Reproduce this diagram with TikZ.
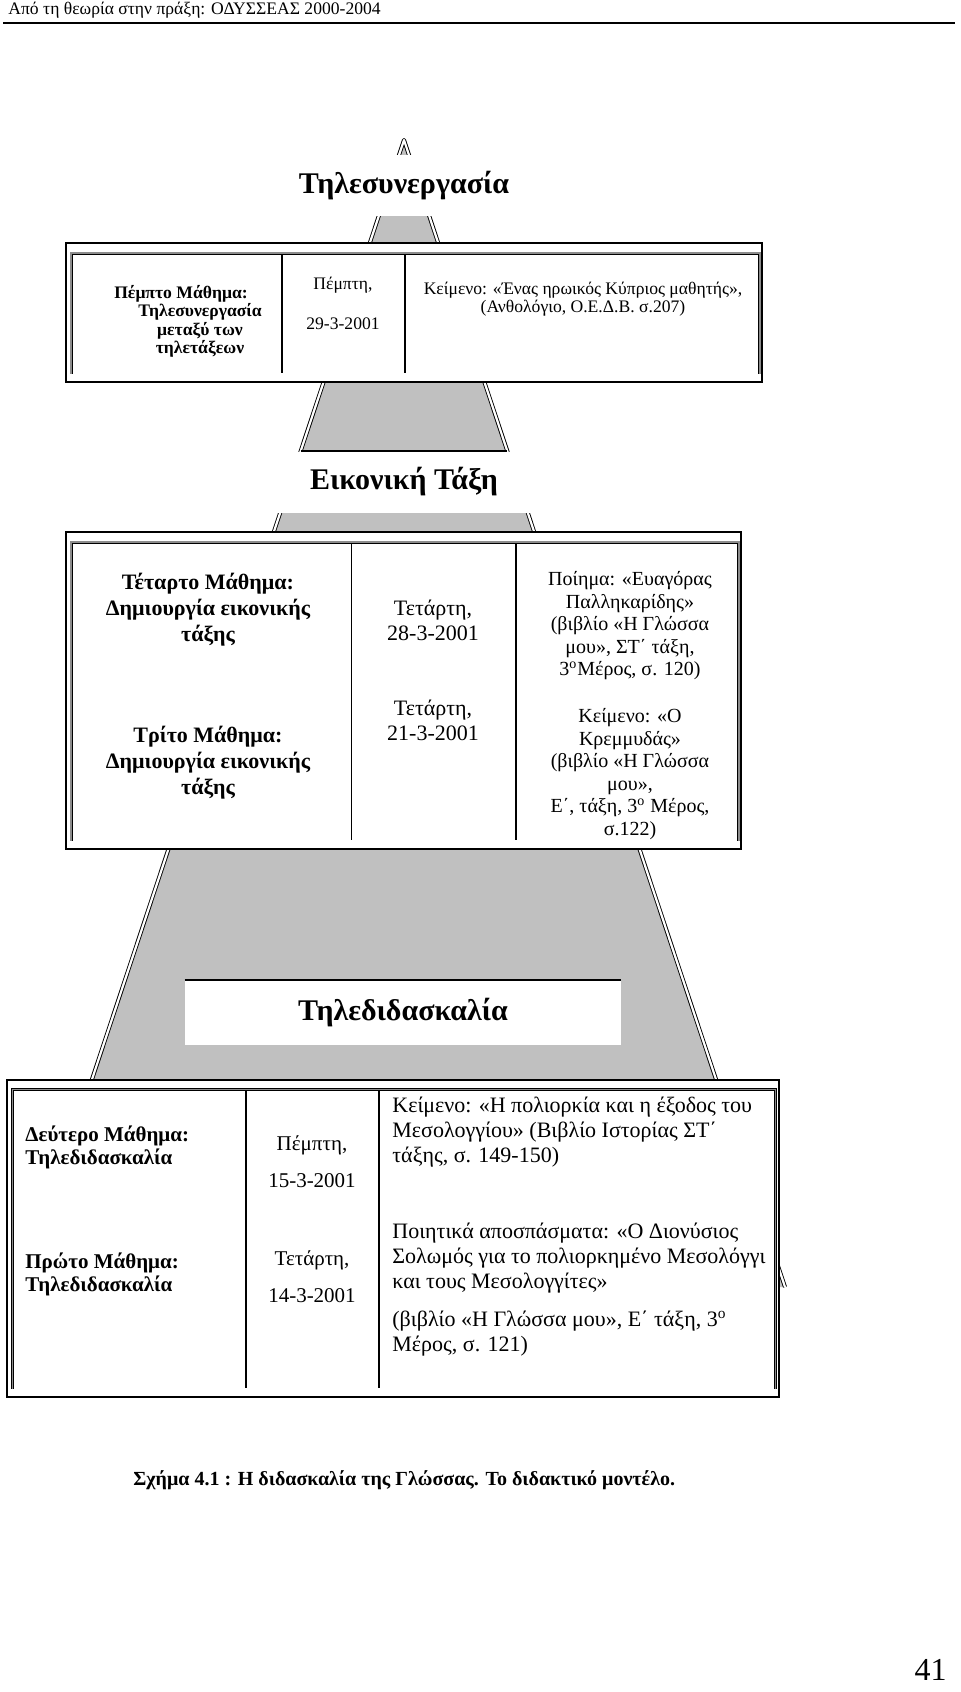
\documentclass[tikz,border=0pt]{standalone}
\usepackage{fontspec}
\setmainfont{Liberation Serif}
\usepackage{xcolor}
\definecolor{pyramidgray}{HTML}{C0C0C0}
\definecolor{framegray}{HTML}{8C8C8C}
\usetikzlibrary{calc, positioning}

\begin{document}
\begin{tikzpicture}[
	x=0.5pt, y=-0.5pt,
	bevel/.style={draw=black, line width=0.45pt, double=white, double distance=1.1pt, line join=round},
	outerframe/.style={rectangle, draw=black, line width=0.9pt, fill=white, inner sep=0pt},
	tableedge/.style={draw=black, line width=0.35pt, double=framegray, double distance=0.8pt},
	colline/.style={draw=black, line width=0.55pt},
	levelbox/.style={rectangle, fill=white, inner sep=0pt, font=\fontsize{15}{18}\selectfont\bfseries},
	cell/.style={anchor=north, align=center, inner sep=0pt},
	]
	\useasboundingbox (0,0) rectangle (960,1692);
	
	% header
	\node[anchor=west, inner sep=0pt, font=\fontsize{8.8}{10}\selectfont] (header) at (8,10) {Από τη θεωρία στην πράξη: ΟΔΥΣΣΕΑΣ 2000-2004};
	\draw[line width=1.1pt] (3,23) -- (955,23);
	
	% pyramid behind everything
	\coordinate (apex) at (404,140);
	\coordinate (baseL) at (23,1287);
	\coordinate (baseR) at (785,1287);
	\fill[pyramidgray] (apex) -- (baseL) -- (baseR) -- cycle;
	\draw[bevel] (baseL) -- (apex) -- (baseR);
	
	\node[levelbox, minimum width=115pt, minimum height=30.5pt] (telecollab) at (404,185.5) {Τηλεσυνεργασία};
	\node[levelbox, minimum width=140pt, minimum height=30.5pt] (virtualclass) at (404,482) {Εικονική Τάξη};
	\draw[line width=0.6pt] ($(apex)!0.2711!(baseL)$) -- ($(apex)!0.2711!(baseR)$);
	\node[levelbox, minimum width=218pt, minimum height=32.5pt] (teleteach) at (403,1012.5) {Τηλεδιδασκαλία};
	\draw[line width=0.9pt] (teleteach.north west) -- (teleteach.north east);
	
	% fifth lesson
	\node[outerframe, minimum width=348pt, minimum height=69.5pt] (lessonfive) at (414,312.5) {};
	\draw[tableedge] ([shift={(6,-9)}]lessonfive.south west) |- ([shift={(-3,11)}]lessonfive.north east) -- ([shift={(-3,-9)}]lessonfive.south east);
	\draw[colline] (282,254) -- (282,373);
	\draw[colline] (405,254) -- (405,373);
	\node[cell, font=\fontsize{8.8}{9.2}\selectfont\bfseries] (fifthname) at (200,285) {Πέμπτο Μάθημα:\hspace*{19pt}\mbox{}\\Τηλεσυνεργασία\\μεταξύ των\\τηλετάξεων};
	\node[cell, font=\fontsize{8.8}{20}\selectfont] (fifthdate) at (343,277) {Πέμπτη,\\29-3-2001};
	\node[cell, font=\fontsize{8.8}{9}\selectfont] (fifthtext) at (583,282) {Κείμενο: «Ένας ηρωικός Κύπριος μαθητής»,\\(Ανθολόγιο, Ο.Ε.Δ.Β. σ.207)};
	
	% fourth and third lesson
	\node[outerframe, minimum width=337.5pt, minimum height=158.5pt] (lessonsfourthree) at (403.5,690.5) {};
	\draw[tableedge] ([shift={(6,-9)}]lessonsfourthree.south west) |- ([shift={(-3,11)}]lessonsfourthree.north east) -- ([shift={(-3,-9)}]lessonsfourthree.south east);
	\draw[colline] (351.5,543) -- (351.5,840);
	\draw[colline] (516,543) -- (516,840);
	\node[cell, font=\fontsize{11}{13}\selectfont\bfseries] (fourthname) at (208,573) {Τέταρτο Μάθημα:\\Δημιουργία εικονικής\\τάξης};
	\node[cell, font=\fontsize{11}{13}\selectfont\bfseries] (thirdname) at (208,726) {Τρίτο Μάθημα:\\Δημιουργία εικονικής\\τάξης};
	\node[cell, font=\fontsize{11}{12.5}\selectfont] (fourthdate) at (433,600) {Τετάρτη,\\28-3-2001};
	\node[cell, font=\fontsize{11}{12.5}\selectfont] (thirddate) at (433,700) {Τετάρτη,\\21-3-2001};
	\node[cell, font=\fontsize{10}{11.25}\selectfont] (fourthtext) at (630,571) {Ποίημα: «Ευαγόρας\\Παλληκαρίδης»\\(βιβλίο «Η Γλώσσα\\μου», ΣΤ΄ τάξη,\\3\textsuperscript{ο}Μέρος, σ. 120)};
	\node[cell, font=\fontsize{10}{11.25}\selectfont] (thirdtext) at (630,708) {Κείμενο: «Ο\\Κρεμμυδάς»\\(βιβλίο «Η Γλώσσα\\μου»,\\Ε΄, τάξη, 3\textsuperscript{ο} Μέρος,\\σ.122)};
	
	% second and first lesson
	\node[outerframe, minimum width=386pt, minimum height=158.5pt] (lessonstwoone) at (393,1238.5) {};
	\draw[tableedge] ([shift={(6.5,-9)}]lessonstwoone.south west) |- ([shift={(-4.5,10.5)}]lessonstwoone.north east) -- ([shift={(-4.5,-9)}]lessonstwoone.south east);
	\draw[colline] (246,1091) -- (246,1388);
	\draw[colline] (379,1091) -- (379,1388);
	\node[cell, anchor=north west, align=left, font=\fontsize{10.5}{11.75}\selectfont\bfseries] (secondname) at (25,1125) {Δεύτερο Μάθημα:\\Τηλεδιδασκαλία};
	\node[cell, anchor=north west, align=left, font=\fontsize{10.5}{11.75}\selectfont\bfseries] (firstname) at (25,1252) {Πρώτο Μάθημα:\\Τηλεδιδασκαλία};
	\node[cell, font=\fontsize{10.5}{18.5}\selectfont] (seconddate) at (312,1135) {Πέμπτη,\\15-3-2001};
	\node[cell, font=\fontsize{10.5}{18.5}\selectfont] (firstdate) at (312,1250) {Τετάρτη,\\14-3-2001};
	\node[cell, anchor=north west, align=left, font=\fontsize{11}{12.5}\selectfont] (secondtext) at (392,1097) {Κείμενο: «Η πολιορκία και η έξοδος του\\Μεσολογγίου» (Βιβλίο Ιστορίας ΣΤ΄\\τάξης, σ. 149-150)};
	\node[cell, anchor=north west, align=left, font=\fontsize{11}{12.5}\selectfont] (firsttext) at (392,1223) {Ποιητικά αποσπάσματα: «Ο Διονύσιος\\Σολωμός για το πολιορκημένο Μεσολόγγι\\και τους Μεσολογγίτες»\\[6.5pt](βιβλίο «Η Γλώσσα μου», Ε΄ τάξη, 3\textsuperscript{ο}\\Μέρος, σ. 121)};
	
	% caption and page number
	\node[anchor=west, inner sep=0pt, font=\fontsize{10}{12}\selectfont\bfseries] (caption) at (133,1480) {Σχήμα 4.1 : Η διδασκαλία της Γλώσσας. Το διδακτικό μοντέλο.};
	\node[anchor=base east, inner sep=0pt, font=\fontsize{16}{18}\selectfont] (pagenum) at (947,1680) {41};
\end{tikzpicture}
\end{document}
